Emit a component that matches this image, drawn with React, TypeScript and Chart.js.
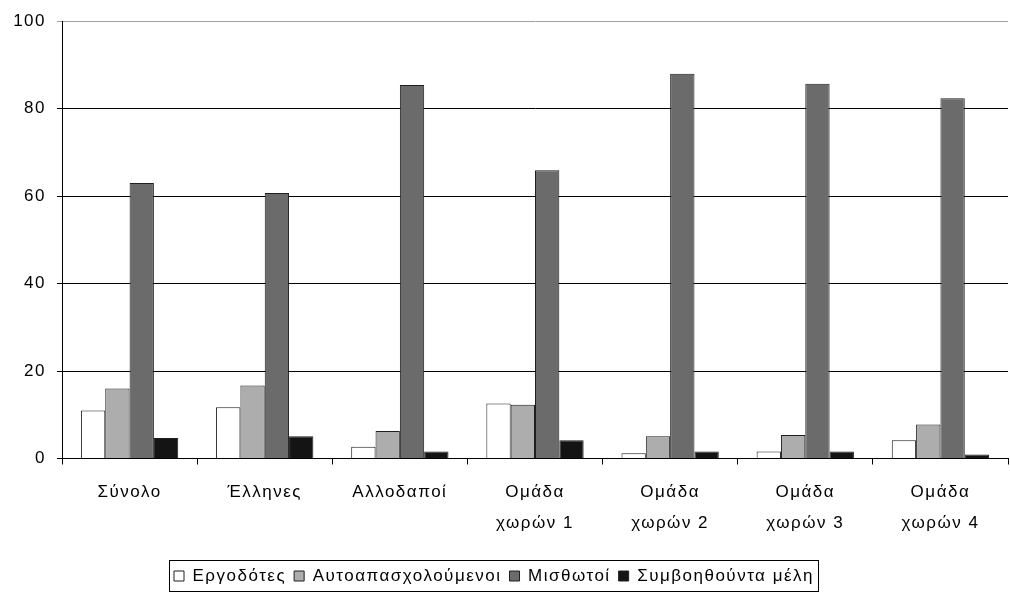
import React, { useEffect, useRef } from "react";
import { Chart, registerables } from "chart.js";

Chart.register(...registerables);

const categories: (string | string[])[] = [
  "Σύνολο",
  "Έλληνες",
  "Αλλοδαποί",
  ["Ομάδα", "χωρών 1"],
  ["Ομάδα", "χωρών 2"],
  ["Ομάδα", "χωρών 3"],
  ["Ομάδα", "χωρών 4"],
];

const seriesNames = ["Εργοδότες", "Αυτοαπασχολούμενοι", "Μισθωτοί", "Συμβοηθούντα μέλη"];

const employers = [11.0, 11.7, 2.7, 12.6, 1.2, 1.6, 4.2];
const selfEmployed = [16.0, 16.7, 6.3, 12.3, 5.1, 5.4, 7.8];
const employees = [63.0, 60.7, 85.4, 65.9, 88.0, 85.7, 82.4];
const familyHelpers = [4.7, 5.1, 1.6, 4.2, 1.6, 1.6, 0.9];

const yTicks = [0, 20, 40, 60, 80, 100];

const FONT = "'Liberation Sans', Arial, sans-serif";

export default function App() {
  const ref = useRef<HTMLCanvasElement>(null);

  useEffect(() => {
    if (!ref.current) return;
    const spacingPlugin = {
      id: "letterSpacing",
      beforeUpdate(chart: any) {
        chart.ctx.letterSpacing = "1.5px";
      },
      beforeDraw(chart: any) {
        chart.ctx.letterSpacing = "1.5px";
      },
    };
    const legendPlacer = {
      id: "legendPlacer",
      afterLayout(chart: any) {
        const lg = chart.legend;
        if (!lg) return;
        const h = lg.height;
        lg.left = 166;
        lg.top = 577 - h / 2;
        lg.bottom = lg.top + h;
      },
      afterDraw(chart: any) {
        const lg = chart.legend;
        if (!lg || !lg.legendHitBoxes || !lg.legendHitBoxes.length) return;
        const hb = lg.legendHitBoxes;
        const first = hb[0];
        const last = hb[hb.length - 1];
        const ctx = chart.ctx;
        ctx.save();
        ctx.strokeStyle = "#000";
        ctx.lineWidth = 1;
        const x1 = Math.round(first.left) - 5 + 0.5;
        const x2 = Math.round(last.left + last.width) + 4 + 0.5;
        const y1 = 560.5;
        const y2 = 591.5;
        ctx.strokeRect(x1, y1, x2 - x1, y2 - y1);
        ctx.restore();
      },
    };

    const mk = (label: string, data: number[], color: string) => ({
      label,
      data,
      backgroundColor: color,
      borderColor: "#1e1e1e",
      borderWidth: 1,
      categoryPercentage: 0.72,
      barPercentage: 1.0,
    });

    const chart = new Chart(ref.current, {
      type: "bar",
      data: {
        labels: categories,
        datasets: [
          mk(seriesNames[0], employers, "#ffffff"),
          mk(seriesNames[1], selfEmployed, "#adadad"),
          mk(seriesNames[2], employees, "#6b6b6b"),
          mk(seriesNames[3], familyHelpers, "#141414"),
        ],
      },
      options: {
        responsive: false,
        animation: false,
        layout: { padding: { top: 20, right: 2, left: 0, bottom: 0 } },
        plugins: {
          tooltip: { enabled: false },
          legend: {
            position: "bottom",
            align: "start",
            labels: {
              boxWidth: 10,
              boxHeight: 10,
              padding: 8,
              color: "#000",
              font: { family: FONT, size: 17 },
            },
          },
        },
        scales: {
          x: {
            grid: {
              display: true,
              offset: true,
              drawOnChartArea: false,
              drawTicks: true,
              tickLength: 6,
              color: "#000",
            },
            border: { display: true, color: "#000", width: 1 },
            ticks: {
              color: "#000",
              padding: 13,
              maxRotation: 0,
              autoSkip: false,
              font: { family: FONT, size: 17, lineHeight: 1.8 },
            },
            afterFit(scale: any) {
              scale.height = 592 - 458.5 - (scale.chart.legend ? scale.chart.legend.height : 0);
            },
          },
          y: {
            min: 0,
            max: 100,
            afterBuildTicks(scale: any) {
              scale.ticks = yTicks.map((v) => ({ value: v }));
            },
            grid: {
              color: (c: any) => (c.tick && c.tick.value === 100 ? "#a0a0a0" : "#000"),
              drawTicks: true,
              tickLength: 5,
              lineWidth: 1,
            },
            border: { display: true, color: "#000", width: 1 },
            ticks: {
              color: "#000",
              padding: 11,
              font: { family: FONT, size: 17 },
            },
            afterFit(scale: any) {
              scale.width = 62;
            },
          },
        },
      },
      plugins: [spacingPlugin, legendPlacer],
    });
    return () => chart.destroy();
  }, []);

  return (
    <div style={{ position: "absolute", left: 0, top: 0, width: 1010, height: 592, background: "#fff" }}>
      <canvas ref={ref} width={1010} height={592} />
    </div>
  );
}
